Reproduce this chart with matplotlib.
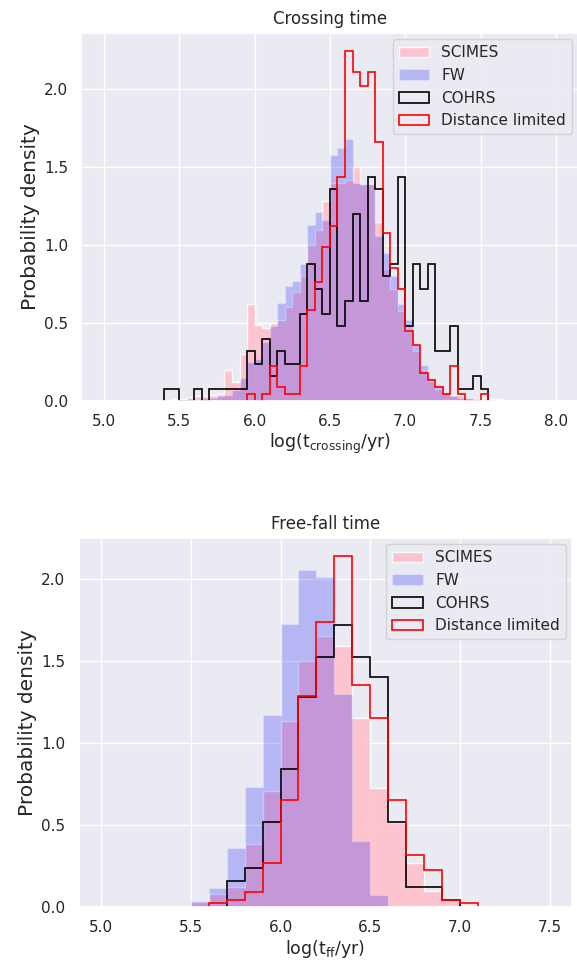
import numpy as np
import matplotlib
matplotlib.use("Agg")
import matplotlib.pyplot as plt
import seaborn as sns

sns.set_theme(style="darkgrid")
plt.rcParams['font.family'] = ['DejaVu Sans']

# ---------------- Crossing time (bin width 0.05) ----------------
cross_width = 0.05
cross_scimes_start = 5.45
cross_scimes = [0.01, 0.015, 0.025, 0.03, 0.03, 0.04, 0.045, 0.20, 0.125, 0.30,
                0.62, 0.49, 0.47, 0.50, 0.52, 0.60, 0.70, 0.80, 1.00, 1.10,
                1.28, 1.40, 1.40, 1.42, 1.50, 1.39, 1.39, 1.15, 0.85, 0.72,
                0.58, 0.45, 0.32, 0.20, 0.13, 0.08, 0.06, 0.04, 0.04, 0.02,
                0.015, 0.01, 0.01, 0.01]
cross_fw_start = 5.55
cross_fw = [0.01, 0.01, 0.02, 0.02, 0.03, 0.04, 0.07, 0.146, 0.25, 0.27,
            0.38, 0.48, 0.63, 0.74, 0.77, 0.88, 1.13, 1.21, 1.16, 1.58,
            1.62, 1.68, 1.40, 1.39, 1.39, 1.06, 0.95, 0.80, 0.62, 0.52,
            0.36, 0.23, 0.15, 0.10, 0.06, 0.03, 0.02, 0.02, 0.01, 0.01]
cross_cohrs_start = 5.40
cross_cohrs_counts = [1, 1, 0, 0, 1, 0, 1, 1, 1, 1, 1, 4, 3, 5, 2, 4, 3, 3, 7, 11,
                      9, 7, 17, 6, 8, 15, 8, 18, 17, 10, 11, 18, 6, 11, 9, 11, 4, 4,
                      6, 1, 1, 2, 1]
cross_dist_start = 5.95
cross_dist_counts = [1, 0, 1, 5, 2, 1, 1, 5, 13, 17, 22, 25, 32, 50, 47, 45, 47, 37,
                     24, 19, 16, 10, 8, 4, 3, 2, 1, 5, 1, 0, 0, 1]

# ---------------- Free-fall time (bin width 0.1) ----------------
ff_width = 0.1
ff_scimes_start = 5.5
ff_scimes = [0.03, 0.077, 0.124, 0.384, 0.709, 1.134, 1.50, 1.648, 1.59, 1.15,
             0.727, 0.52, 0.266, 0.10, 0.04]
ff_fw_start = 5.3
ff_fw = [0.008, 0.008, 0.039, 0.118, 0.362, 0.73, 1.167, 1.724, 2.05, 2.008,
         1.30, 0.40, 0.07]
ff_cohrs_start = 5.7
ff_cohrs_counts = [4, 6, 13, 21, 32, 38, 43, 38, 35, 13, 3, 3, 1]
ff_dist_start = 5.6
ff_dist_counts = [1, 2, 4, 12, 29, 57, 77, 95, 60, 51, 29, 14, 10, 2, 1]

labels = ["SCIMES", "FW", "COHRS", "Distance limited"]
titles = ["Crossing time", "Free-fall time"]
xlabels = [r"log(t$_{\mathrm{crossing}}$/yr)", r"log(t$_{\mathrm{ff}}$/yr)"]


def edges_for(start, n, width):
    return np.round(start + width * np.arange(n + 1), 4)


def draw(ax, width, sc_start, sc, fw_start, fw, co_start, co, di_start, di):
    e = edges_for(sc_start, len(sc), width)
    ax.hist(e[:-1] + width / 2, bins=e, weights=sc, histtype="stepfilled",
            color="pink", alpha=0.9, label=labels[0])
    e = edges_for(fw_start, len(fw), width)
    ax.hist(e[:-1] + width / 2, bins=e, weights=fw, histtype="stepfilled",
            color="blue", alpha=0.22, label=labels[1])
    e = edges_for(co_start, len(co), width)
    ax.hist(e[:-1] + width / 2, bins=e, weights=co, density=True,
            histtype="step", color="black", lw=1.2, label=labels[2])
    e = edges_for(di_start, len(di), width)
    ax.hist(e[:-1] + width / 2, bins=e, weights=di, density=True,
            histtype="step", color="red", lw=1.2, label=labels[3])


fig = plt.figure(figsize=(5.77, 9.61), dpi=100)
ax1 = fig.add_axes([0.1411, 0.5827, 0.8614, 0.3828])
ax2 = fig.add_axes([0.1362, 0.0562, 0.8555, 0.3838])

draw(ax1, cross_width, cross_scimes_start, cross_scimes, cross_fw_start, cross_fw,
     cross_cohrs_start, cross_cohrs_counts, cross_dist_start, cross_dist_counts)
draw(ax2, ff_width, ff_scimes_start, ff_scimes, ff_fw_start, ff_fw,
     ff_cohrs_start, ff_cohrs_counts, ff_dist_start, ff_dist_counts)

ax1.set_xlim(4.85, 8.15)
ax1.set_xticks([5.0, 5.5, 6.0, 6.5, 7.0, 7.5, 8.0])
ax1.set_yticks([0.0, 0.5, 1.0, 1.5, 2.0])
ax2.set_xlim(4.875, 7.625)
ax2.set_xticks([5.0, 5.5, 6.0, 6.5, 7.0, 7.5])
ax2.set_yticks([0.0, 0.5, 1.0, 1.5, 2.0])

for ax, t, xl in zip([ax1, ax2], titles, xlabels):
    ax.set_title(t, fontsize=12, pad=6.5)
    ax.set_xlabel(xl, fontsize=12.5, labelpad=2)
    ax.set_ylabel("Probability density", fontsize=14.5, labelpad=3)
    ax.tick_params(labelsize=11)
    ax.legend(loc="upper right", fontsize=11, borderaxespad=0.4)

fig.savefig("out.png", dpi=100)
